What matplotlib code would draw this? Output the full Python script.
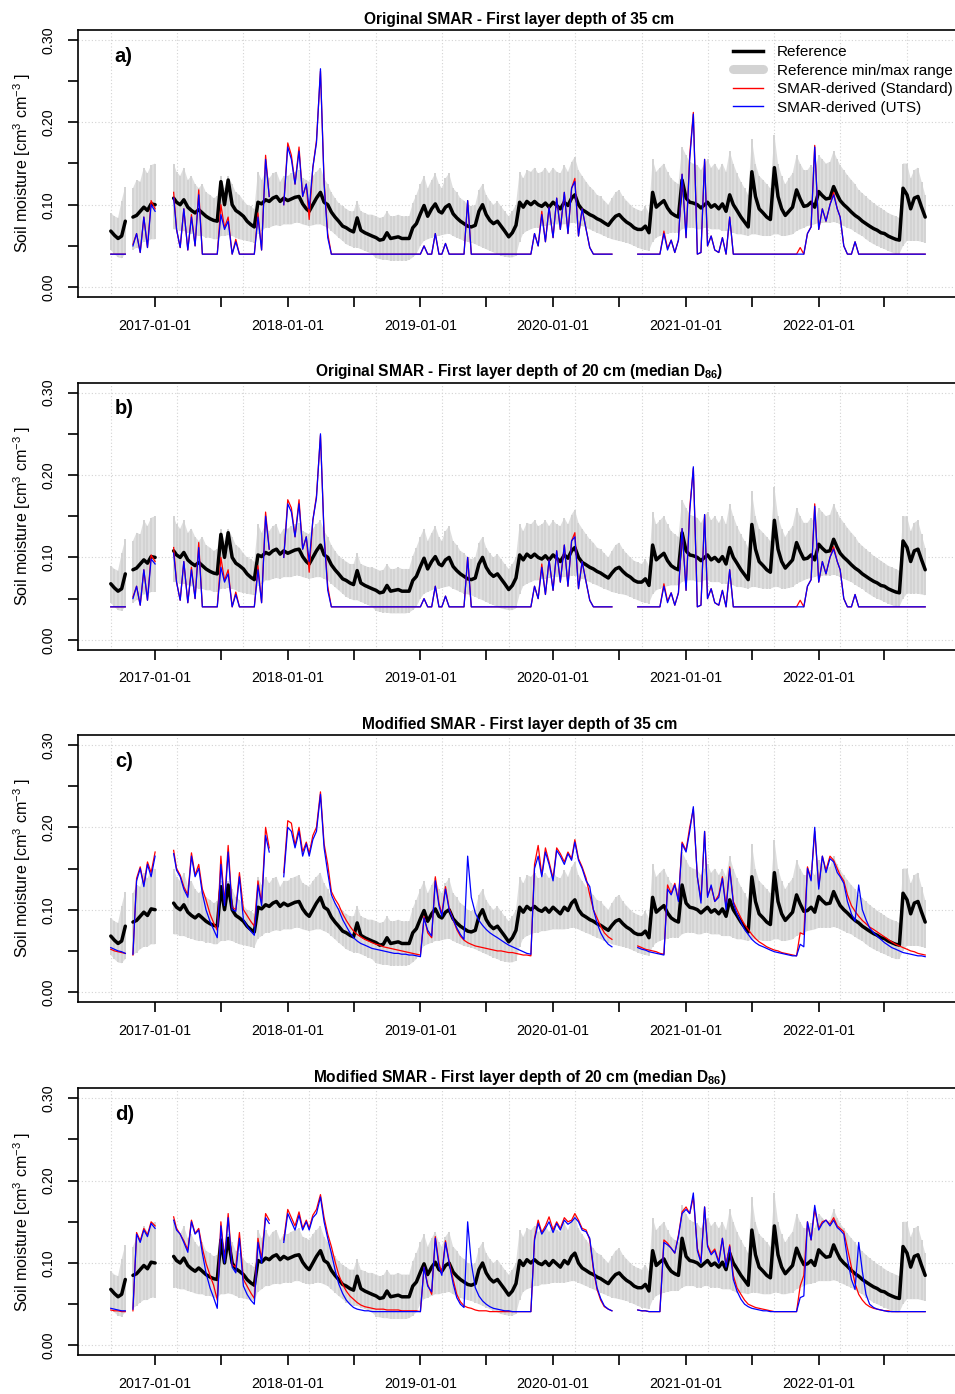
import numpy as np
import pandas as pd
import matplotlib
matplotlib.use("Agg")
import matplotlib.pyplot as plt
import matplotlib.dates as mdates
from matplotlib.lines import Line2D

plt.rcParams["font.family"] = ["Liberation Sans", "DejaVu Sans"]
plt.rcParams["mathtext.fontset"] = "custom"
plt.rcParams["mathtext.rm"] = "Liberation Sans"
plt.rcParams["mathtext.it"] = "Liberation Sans:italic"
plt.rcParams["mathtext.bf"] = "Liberation Sans:bold"

NA = None

# Sampling dates: 1st, 11th and 21st of every month, Sep 2016 - Oct 2022
months = pd.date_range("2016-09-01", "2022-10-01", freq="MS")
dates = [m + pd.Timedelta(days=d) for m in months for d in (0, 10, 20)]

# Soil moisture values in 1e-3 cm3 cm-3; one row per four months
ref = [
    68, 63, 59, 62, 80, NA, 85, 87, 92, 97, 93, 101,
    100, NA, NA, NA, NA, 108, 103, 100, 106, 97, 93, 90,
    94, 90, 86, 83, 81, 80, 128, 100, 130, 100, 93, 90,
    86, 80, 76, 73, 103, 101, 106, 104, 108, 110, 104, 108,
    105, 107, 109, 110, 101, 95, 92, 100, 108, 115, 103, 100,
    91, 85, 80, 74, 72, 69, 67, 84, 69, 66, 64, 62,
    60, 57, 58, 66, 59, 60, 61, 59, 59, 59, 72, 77,
    89, 99, 86, 95, 101, 92, 90, 97, 100, 89, 84, 80,
    77, 74, 73, 75, 92, 100, 88, 81, 77, 80, 74, 68,
    61, 66, 75, 103, 97, 104, 100, 104, 100, 98, 102, 97,
    103, 99, 95, 103, 99, 108, 112, 100, 94, 91, 88, 86,
    83, 81, 78, 75, 81, 86, 88, 83, 79, 76, 72, 70,
    70, 74, 66, 115, 97, 101, 105, 96, 90, 87, 85, 130,
    108, 103, 102, 100, 96, 100, 103, 97, 100, 95, 101, 92,
    112, 100, 93, 85, 79, 73, 140, 110, 95, 90, 85, 82,
    145, 110, 95, 87, 92, 97, 118, 107, 98, 99, 103, 97,
    116, 111, 107, 108, 122, 112, 105, 100, 96, 91, 87, 84,
    80, 77, 74, 71, 69, 66, 65, 62, 60, 58, 57, 120,
    112, 95, 108, 110, 97, 85,
]
ref_max = [
    90, 86, 84, 105, 122, NA, 120, 130, 128, 145, 138, 148,
    150, NA, NA, NA, NA, 150, 140, 135, 145, 130, 135, 125,
    120, 125, 115, 112, 108, 110, 135, 120, 135, 125, 115, 112,
    105, 100, 98, 95, 140, 130, 140, 132, 138, 140, 128, 135,
    135, 138, 140, 142, 132, 130, 128, 135, 140, 145, 132, 125,
    115, 108, 102, 98, 95, 92, 92, 105, 92, 90, 88, 88,
    86, 84, 85, 92, 86, 86, 88, 86, 86, 86, 102, 112,
    125, 135, 120, 130, 138, 125, 120, 132, 138, 120, 115, 108,
    105, 100, 98, 100, 118, 125, 112, 105, 100, 104, 98, 92,
    86, 92, 100, 140, 132, 142, 140, 145, 138, 140, 145, 138,
    145, 140, 138, 148, 140, 152, 158, 142, 135, 128, 122, 118,
    112, 110, 105, 100, 108, 115, 118, 110, 105, 100, 96, 94,
    92, 98, 90, 155, 140, 145, 150, 140, 132, 128, 125, 170,
    160, 152, 150, 148, 142, 150, 155, 145, 150, 142, 150, 140,
    165, 150, 138, 128, 120, 112, 180, 150, 135, 130, 125, 120,
    185, 150, 135, 125, 132, 138, 160, 150, 142, 142, 148, 142,
    160, 155, 150, 152, 165, 155, 148, 142, 136, 130, 125, 118,
    114, 110, 106, 102, 99, 96, 93, 90, 88, 86, 84, 150,
    150, 132, 142, 145, 128, 112,
]
ref_min = [
    45, 40, 36, 35, 40, NA, 45, 48, 52, 55, 55, 58,
    58, NA, NA, NA, NA, 70, 70, 68, 68, 66, 65, 63,
    62, 62, 60, 60, 58, 58, 62, 62, 63, 62, 60, 58,
    57, 56, 55, 54, 65, 68, 72, 72, 74, 75, 74, 76,
    76, 76, 78, 78, 76, 75, 74, 75, 76, 76, 74, 72,
    68, 64, 60, 56, 52, 50, 48, 48, 46, 44, 42, 40,
    35, 34, 33, 33, 32, 32, 32, 32, 32, 33, 36, 40,
    50, 56, 58, 60, 62, 62, 63, 64, 65, 62, 60, 58,
    56, 55, 54, 52, 50, 48, 46, 44, 42, 40, 38, 37,
    36, 36, 38, 55, 65, 68, 70, 72, 72, 74, 74, 75,
    76, 76, 76, 76, 77, 78, 78, 76, 74, 72, 70, 68,
    66, 64, 62, 60, 58, 57, 56, 55, 54, 52, 50, 48,
    46, 45, 44, 55, 60, 62, 64, 65, 66, 66, 66, 70,
    72, 72, 72, 70, 70, 72, 72, 70, 70, 70, 68, 68,
    68, 66, 64, 64, 63, 62, 64, 64, 63, 62, 62, 62,
    64, 64, 62, 62, 63, 64, 68, 70, 72, 74, 75, 76,
    78, 78, 78, 78, 79, 78, 76, 74, 72, 70, 67, 64,
    62, 58, 55, 52, 50, 48, 46, 44, 42, 40, 40, 50,
    56, 56, 56, 56, 55, 54,
]

# Original SMAR, first layer 35 cm
a_uts = [
    40, 40, 40, 40, 40, NA, 50, 65, 42, 85, 48, 100,
    92, NA, NA, NA, NA, 108, 70, 48, 95, 45, 85, 50,
    112, 40, 40, 40, 40, 40, 88, 70, 80, 40, 55, 40,
    40, 40, 40, 40, 85, 45, 155, 110, NA, NA, NA, 100,
    170, 155, 125, 165, 110, 125, 95, 145, 175, 265, 125, 60,
    40, 40, 40, 40, 40, 40, 40, 40, 40, 40, 40, 40,
    40, 40, 40, 40, 40, 40, 40, 40, 40, 40, 40, 40,
    40, 50, 40, 40, 65, 40, 40, 53, 40, 40, 40, 40,
    40, 105, 40, 40, 40, 40, 40, 40, 40, 40, 40, 40,
    40, 40, 40, 40, 40, 40, 40, 65, 50, 88, 55, 97,
    60, 108, 70, 115, 65, 120, 128, 62, 95, 70, 48, 40,
    40, 40, 40, 40, 40, NA, NA, NA, NA, NA, NA, 40,
    40, 40, 40, 40, 40, 40, 65, 45, 57, 42, 57, 137,
    60, 155, 210, 40, 42, 155, 50, 62, 45, 42, 60, 40,
    85, 40, 40, 40, 40, 40, 40, 40, 40, 40, 40, 40,
    40, 40, 40, 40, 40, 40, 40, 40, 40, 65, 73, 170,
    70, 95, 80, 100, 112, 95, 85, 50, 40, 40, 55, 40,
    40, 40, 40, 40, 40, 40, 40, 40, 40, 40, 40, 40,
    40, 40, 40, 40, 40, 40,
]
a_std = [
    40, 40, 40, 40, 40, NA, 52, 65, 42, 85, 48, 105,
    95, NA, NA, NA, NA, 115, 70, 48, 95, 45, 88, 50,
    118, 40, 40, 40, 40, 40, 100, 72, 85, 40, 58, 40,
    40, 40, 40, 40, 90, 45, 160, 110, NA, NA, NA, 100,
    175, 160, 125, 170, 110, 125, 82, 145, 178, 262, 128, 65,
    40, 40, 40, 40, 40, 40, 40, 40, 40, 40, 40, 40,
    40, 40, 40, 40, 40, 40, 40, 40, 40, 40, 40, 40,
    40, 50, 40, 40, 65, 40, 40, 53, 40, 40, 40, 40,
    40, 105, 40, 40, 40, 40, 40, 40, 40, 40, 40, 40,
    40, 40, 40, 40, 40, 40, 40, 65, 50, 92, 55, 97,
    60, 108, 70, 115, 65, 120, 132, 62, 95, 70, 48, 40,
    40, 40, 40, 40, 40, NA, NA, NA, NA, NA, NA, 40,
    40, 40, 40, 40, 40, 40, 68, 47, 57, 42, 57, 137,
    60, 160, 212, 40, 42, 155, 50, 62, 45, 42, 60, 40,
    85, 40, 40, 40, 40, 40, 40, 40, 40, 40, 40, 40,
    40, 40, 40, 40, 40, 40, 40, 48, 40, 65, 73, 172,
    70, 95, 80, 100, 115, 95, 85, 50, 40, 40, 55, 40,
    40, 40, 40, 40, 40, 40, 40, 40, 40, 40, 40, 40,
    40, 40, 40, 40, 40, 40,
]

# Original SMAR, first layer 20 cm (median D86)
b_uts = [
    40, 40, 40, 40, 40, NA, 50, 65, 42, 85, 48, 98,
    92, NA, NA, NA, NA, 105, 70, 48, 95, 45, 85, 50,
    112, 40, 40, 40, 40, 40, 88, 70, 80, 40, 55, 40,
    40, 40, 40, 40, 85, 45, 150, 110, NA, NA, NA, 100,
    165, 155, 125, 165, 110, 125, 95, 145, 172, 250, 125, 60,
    40, 40, 40, 40, 40, 40, 40, 40, 40, 40, 40, 40,
    40, 40, 40, 40, 40, 40, 40, 40, 40, 40, 40, 40,
    40, 50, 40, 40, 65, 40, 40, 53, 40, 40, 40, 40,
    40, 100, 40, 40, 40, 40, 40, 40, 40, 40, 40, 40,
    40, 40, 40, 40, 40, 40, 40, 65, 50, 88, 55, 97,
    60, 108, 70, 115, 65, 120, 125, 62, 95, 70, 48, 40,
    40, 40, 40, 40, 40, NA, NA, NA, NA, NA, NA, 40,
    40, 40, 40, 40, 40, 40, 65, 45, 57, 42, 57, 135,
    60, 155, 210, 40, 42, 152, 50, 62, 45, 42, 60, 40,
    85, 40, 40, 40, 40, 40, 40, 40, 40, 40, 40, 40,
    40, 40, 40, 40, 40, 40, 40, 40, 40, 65, 73, 162,
    70, 95, 80, 100, 110, 95, 85, 50, 40, 40, 55, 40,
    40, 40, 40, 40, 40, 40, 40, 40, 40, 40, 40, 40,
    40, 40, 40, 40, 40, 40,
]
b_std = [
    40, 40, 40, 40, 40, NA, 52, 65, 42, 85, 48, 103,
    95, NA, NA, NA, NA, 112, 70, 48, 95, 45, 88, 50,
    118, 40, 40, 40, 40, 40, 100, 72, 85, 40, 58, 40,
    40, 40, 40, 40, 90, 45, 155, 110, NA, NA, NA, 100,
    170, 160, 125, 170, 110, 125, 82, 145, 175, 248, 128, 65,
    40, 40, 40, 40, 40, 40, 40, 40, 40, 40, 40, 40,
    40, 40, 40, 40, 40, 40, 40, 40, 40, 40, 40, 40,
    40, 50, 40, 40, 65, 40, 40, 53, 40, 40, 40, 40,
    40, 100, 40, 40, 40, 40, 40, 40, 40, 40, 40, 40,
    40, 40, 40, 40, 40, 40, 40, 65, 50, 92, 55, 97,
    60, 108, 70, 115, 65, 120, 130, 62, 95, 70, 48, 40,
    40, 40, 40, 40, 40, NA, NA, NA, NA, NA, NA, 40,
    40, 40, 40, 40, 40, 40, 68, 47, 57, 42, 57, 135,
    60, 160, 208, 40, 42, 152, 50, 62, 45, 42, 60, 40,
    85, 40, 40, 40, 40, 40, 40, 40, 40, 40, 40, 40,
    40, 40, 40, 40, 40, 40, 40, 48, 40, 65, 73, 165,
    70, 95, 80, 100, 113, 95, 85, 50, 40, 40, 55, 40,
    40, 40, 40, 40, 40, 40, 40, 40, 40, 40, 40, 40,
    40, 40, 40, 40, 40, 40,
]

# Modified SMAR, first layer 35 cm
c_uts = [
    54, 52, 50, 49, 47, NA, 46, 135, 150, 128, 155, 140,
    165, NA, NA, NA, NA, 168, 148, 140, 125, 115, 165, 140,
    150, 120, 100, 86, 76, 66, 155, 105, 170, 100, 98, 140,
    88, 80, 74, 69, 130, 105, 190, 170, NA, NA, NA, 140,
    200, 195, 175, 195, 165, 180, 165, 185, 195, 240, 175, 145,
    118, 108, 100, 88, 80, 72, 66, 62, 59, 57, 55, 53,
    52, 51, 50, 49, 48, 47, 47, 46, 46, 45, 45, 44,
    43, 90, 75, 68, 135, 105, 92, 125, 100, 88, 78, 70,
    64, 165, 115, 96, 87, 81, 76, 72, 69, 66, 63, 60,
    57, 55, 53, 51, 49, 47, 46, 150, 165, 140, 170, 155,
    135, 172, 165, 155, 168, 160, 182, 160, 150, 135, 128, 100,
    84, 72, 64, 58, 55, NA, NA, NA, NA, NA, NA, 54,
    52, 51, 49, 48, 47, 46, 45, 125, 118, 130, 110, 180,
    170, 195, 225, 140, 108, 195, 115, 130, 110, 115, 138, 100,
    150, 108, 95, 85, 76, 70, 64, 60, 57, 55, 53, 51,
    49, 48, 47, 46, 45, 44, 44, 58, 55, 150, 135, 200,
    125, 165, 145, 162, 158, 145, 140, 132, 110, 95, 86, 130,
    100, 88, 78, 72, 68, 64, 60, 57, 54, 52, 50, 48,
    47, 46, 45, 44, 44, 43,
]
c_std = [
    52, 50, 49, 48, 47, NA, 45, 138, 152, 130, 158, 145,
    170, NA, NA, NA, NA, 172, 150, 142, 128, 118, 169, 142,
    155, 125, 112, 95, 84, 75, 165, 108, 178, 103, 100, 145,
    100, 93, 86, 80, 135, 108, 200, 175, NA, NA, NA, 145,
    208, 205, 178, 200, 170, 182, 168, 190, 200, 243, 180, 155,
    122, 113, 106, 95, 87, 80, 74, 70, 67, 64, 62, 60,
    58, 57, 55, 54, 53, 52, 51, 50, 49, 48, 47, 46,
    45, 92, 72, 66, 140, 108, 95, 128, 102, 88, 76, 68,
    63, 60, 58, 56, 55, 54, 53, 52, 51, 50, 50, 49,
    48, 48, 47, 46, 45, 45, 44, 155, 178, 142, 175, 158,
    138, 175, 168, 158, 170, 162, 185, 162, 152, 138, 118, 100,
    90, 80, 72, 67, 64, NA, NA, NA, NA, NA, NA, 56,
    54, 52, 51, 50, 49, 47, 46, 130, 120, 132, 112, 182,
    172, 200, 222, 140, 112, 195, 117, 128, 110, 118, 140, 104,
    152, 110, 100, 90, 82, 76, 70, 65, 61, 58, 55, 53,
    51, 50, 48, 47, 46, 45, 44, 72, 70, 152, 137, 195,
    128, 165, 148, 165, 160, 150, 142, 135, 118, 105, 98, 92,
    87, 83, 79, 76, 73, 70, 67, 64, 61, 58, 56, 54,
    52, 50, 49, 47, 46, 45,
]

# Modified SMAR, first layer 20 cm (median D86)
d_uts = [
    45, 44, 43, 42, 42, NA, 44, 135, 125, 140, 132, 148,
    142, NA, NA, NA, NA, 152, 140, 135, 125, 113, 150, 135,
    140, 112, 88, 70, 58, 45, 145, 100, 155, 95, 88, 130,
    72, 62, 55, 50, 125, 100, 155, 148, NA, NA, NA, 125,
    160, 150, 140, 158, 140, 150, 140, 155, 160, 180, 150, 130,
    112, 92, 75, 63, 55, 50, 46, 44, 43, 42, 42, 41,
    41, 41, 41, 41, 41, 41, 41, 41, 41, 41, 41, 41,
    41, 95, 72, 65, 130, 95, 85, 125, 100, 75, 58, 50,
    46, 150, 100, 70, 60, 54, 50, 47, 45, 44, 43, 42,
    42, 41, 41, 41, 41, 41, 41, 128, 148, 135, 142, 150,
    137, 148, 140, 152, 147, 150, 155, 150, 140, 138, 130, 95,
    70, 57, 48, 44, 42, NA, NA, NA, NA, NA, NA, 43,
    42, 42, 41, 41, 41, 41, 125, 122, 118, 112, 132, 160,
    165, 160, 185, 115, 100, 168, 120, 110, 115, 100, 130, 95,
    120, 80, 66, 56, 50, 47, 45, 44, 43, 42, 42, 41,
    41, 41, 41, 41, 41, 41, 41, 58, 60, 150, 128, 170,
    140, 148, 152, 145, 152, 143, 140, 135, 105, 80, 68, 125,
    90, 62, 50, 46, 44, 43, 42, 41, 41, 41, 41, 41,
    41, 41, 41, 41, 41, 41,
]
d_std = [
    43, 42, 42, 41, 41, NA, 42, 137, 127, 142, 134, 150,
    145, NA, NA, NA, NA, 156, 142, 135, 127, 116, 152, 136,
    142, 118, 100, 85, 73, 55, 150, 103, 160, 98, 95, 137,
    80, 72, 64, 57, 130, 105, 160, 152, NA, NA, NA, 128,
    165, 155, 145, 162, 142, 152, 142, 158, 165, 183, 155, 135,
    120, 102, 86, 74, 66, 60, 56, 52, 49, 47, 46, 45,
    44, 44, 44, 43, 43, 43, 43, 42, 42, 42, 42, 42,
    41, 95, 74, 62, 132, 100, 88, 127, 102, 80, 62, 53,
    48, 46, 45, 43, 42, 42, 42, 41, 41, 41, 41, 41,
    41, 41, 41, 41, 41, 41, 41, 130, 152, 137, 145, 156,
    140, 150, 142, 155, 150, 152, 160, 152, 142, 140, 128, 92,
    68, 55, 47, 44, 42, NA, NA, NA, NA, NA, NA, 43,
    42, 42, 41, 41, 41, 41, 128, 124, 118, 112, 134, 162,
    168, 160, 180, 118, 102, 168, 122, 112, 117, 102, 130, 97,
    122, 85, 70, 62, 55, 50, 48, 46, 45, 44, 43, 42,
    41, 41, 41, 41, 41, 41, 41, 72, 85, 150, 128, 165,
    142, 150, 152, 147, 155, 145, 142, 138, 118, 95, 75, 62,
    55, 50, 47, 45, 44, 43, 42, 42, 41, 41, 41, 41,
    41, 41, 41, 41, 41, 41,
]

titles = [
    "Original SMAR - First layer depth of 35 cm",
    r"Original SMAR - First layer depth of 20 cm (median $\mathbf{D_{86}}$)",
    "Modified SMAR - First layer depth of 35 cm",
    r"Modified SMAR - First layer depth of 20 cm (median $\mathbf{D_{86}}$)",
]
panel_tags = ["a)", "b)", "c)", "d)"]
panel_series = [(a_std, a_uts), (b_std, b_uts), (c_std, c_uts), (d_std, d_uts)]
legend_labels = ["Reference", "Reference min/max range",
                 "SMAR-derived (Standard)", "SMAR-derived (UTS)"]

named = {"ref": ref, "ref_max": ref_max, "ref_min": ref_min,
         "a_uts": a_uts, "a_std": a_std, "b_uts": b_uts, "b_std": b_std,
         "c_uts": c_uts, "c_std": c_std, "d_uts": d_uts, "d_std": d_std}
for key, vals in named.items():
    if len(vals) != len(dates):
        raise ValueError(f"{key}: {len(vals)} values for {len(dates)} dates")


def vol(vals):
    return np.array(vals, dtype=float) / 1000.0


x = mdates.date2num(pd.DatetimeIndex(dates).to_pydatetime())
r_mid, r_lo, r_hi = vol(ref), vol(ref_min), vol(ref_max)
has_range = ~np.isnan(r_lo) & ~np.isnan(r_hi)

GRAY = "#d3d3d3"
W, H = 955, 1394
fig = plt.figure(figsize=(W / 100, H / 100), dpi=100)

left_px, right_px = 77.7, 961.0
tops_px = [30.0, 382.7, 735.0, 1088.3]
height_px = 267.0

xlim = (mdates.date2num(pd.Timestamp("2016-06-02")),
        mdates.date2num(pd.Timestamp("2023-01-27 12:00")))
x_ticks = pd.date_range("2017-01-01", "2022-07-01", freq="6MS")
grid_dates = pd.date_range("2016-09-01", "2022-09-01", freq="6MS")
y_ticks = np.arange(0, 0.301, 0.05)

for i, (top, title, tag, (std_vals, uts_vals)) in enumerate(
        zip(tops_px, titles, panel_tags, panel_series)):
    ax = fig.add_axes([left_px / W, 1 - (top + height_px) / H,
                       (right_px - left_px) / W, height_px / H])
    ax.set_xlim(*xlim)
    ax.set_ylim(-0.012, 0.312)

    for g in grid_dates:
        ax.axvline(mdates.date2num(g), color=GRAY, lw=0.8, ls=(0, (1, 2)), zorder=0)
    for yv in (0.0, 0.1, 0.2, 0.3):
        ax.axhline(yv, color=GRAY, lw=0.8, ls=(0, (1, 2)), zorder=0)

    # reference min/max range: light band plus daily-style streaks
    ax.fill_between(x, r_lo, r_hi, where=has_range, color="#dedede",
                    lw=0, zorder=1)
    ax.vlines(x[has_range], r_lo[has_range], r_hi[has_range],
              color=GRAY, lw=1.4, zorder=1.5)
    ax.plot(x, r_mid, color="black", lw=2.5, solid_capstyle="round",
            solid_joinstyle="round", zorder=3)
    ax.plot(x, vol(std_vals), color="#ff0000", lw=0.9, zorder=4)
    ax.plot(x, vol(uts_vals), color="#0000ff", lw=0.9, zorder=5)

    ax.set_xticks(mdates.date2num(x_ticks.to_pydatetime()))
    ax.set_xticklabels([d.strftime("%Y-%m-%d") if d.month == 1 else "" for d in x_ticks])
    ax.set_yticks(y_ticks)
    ax.set_yticklabels(["0.00", "", "0.10", "", "0.20", "", "0.30"])
    ax.tick_params(axis="both", direction="out", length=7, width=1.2,
                   labelsize=10.3, colors="black")
    ax.tick_params(axis="x", pad=8.5)
    ax.tick_params(axis="y", pad=9, labelrotation=90)
    for lab in ax.get_yticklabels():
        lab.set_va("center")
    for sp in ax.spines.values():
        sp.set_linewidth(1.2)

    ax.set_title(title, fontsize=11.2, fontweight="bold", pad=4.5)
    ax.text(0.042, 0.9025, tag, transform=ax.transAxes, fontsize=14.5,
            fontweight="bold", ha="left", va="center")

    fig.text(22 / W, 1 - (top + height_px / 2) / H,
             r"Soil moisture [cm$^{3}$ cm$^{-3}$ ]", rotation=90,
             ha="center", va="center", fontsize=11.6)

    if i == 0:
        handles = [
            Line2D([], [], color="black", lw=2.5),
            Line2D([], [], color=GRAY, lw=6.5, solid_capstyle="round"),
            Line2D([], [], color="#ff0000", lw=1.0),
            Line2D([], [], color="#0000ff", lw=1.0),
        ]
        ax.legend(handles, legend_labels, loc="upper left",
                  bbox_to_anchor=(0.742, 0.944), frameon=False, fontsize=11,
                  handlelength=1.96, handletextpad=0.9, labelspacing=0.3,
                  borderpad=0, borderaxespad=0)

fig.savefig("out.png", dpi=100)
